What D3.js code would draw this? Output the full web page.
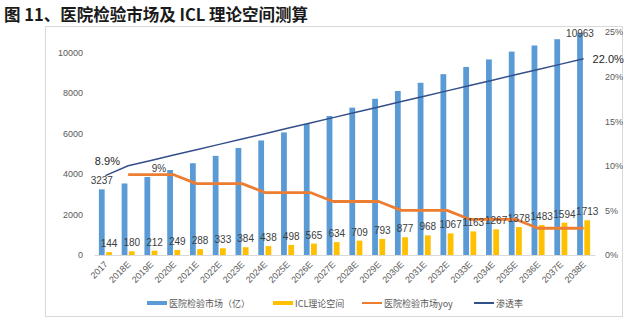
<!DOCTYPE html>
<html>
<head>
<meta charset="utf-8">
<script src="https://cdn.jsdelivr.net/npm/d3@7"></script>
<style>
  body { margin: 0; background: #fff; }
  text { font-family: "Liberation Sans", "Noto Sans CJK SC", sans-serif; }
  .cjk { font-family: "Noto Sans CJK SC", sans-serif; }
</style>
</head>
<body>
<script>
const years = ["2017","2018E","2019E","2020E","2021E","2022E","2023E","2024E","2025E","2026E","2027E",
  "2028E","2029E","2030E","2031E","2032E","2033E","2034E","2035E","2036E","2037E","2038E"];
// 医院检验市场（亿）
const market = [3237,3528,3846,4192,4527,4890,5281,5650,6046,6469,6857,
  7269,7705,8090,8495,8920,9276,9647,10033,10334,10644,10963];
// ICL理论空间
const icl = [144,180,212,249,288,333,384,438,498,565,634,
  709,793,877,968,1067,1163,1267,1378,1483,1594,1713];
// 医院检验市场yoy (%)
const yoy = [null,9,9,9,8,8,8,7,7,7,6,6,6,5,5,5,4,4,4,3,3,3];
// 渗透率 (%)
const penetration = [8.9,10.0,10.6,11.2,11.8,12.4,13.0,13.6,14.2,14.8,15.4,
  16.0,16.6,17.2,17.8,18.4,19.0,19.6,20.2,20.8,21.4,22.0];
const leftTicks = [0,2000,4000,6000,8000,10000];
const rightTicks = [0,5,10,15,20,25];

const w = 640;
const h = 323;
const plotL = 94, plotR = 595, plotT = 32, plotB = 255;

const svg = d3.select("body")
  .append("svg")
  .attr("width", w)
  .attr("height", h);

svg.append("text")
  .attr("class", "cjk")
  .attr("x", 4)
  .attr("y", 21)
  .text("图 11、医院检验市场及 ICL 理论空间测算")
  .attr("fill", "#1a1a1a")
  .style("font-size", "16.5px")
  .style("font-weight", "700");

// chart frame
svg.append("rect")
  .attr("x", 45.5).attr("y", 26.5)
  .attr("width", 577).attr("height", 290)
  .attr("fill", "none")
  .attr("stroke", "#d9d9d9");

const xScale = d3.scaleBand()
  .domain(years)
  .range([plotL, plotR]);
const xSub = d3.scaleBand()
  .domain(["market", "icl"])
  .range([-6.5, 6.5])
  .paddingInner(0.2);
const cx = (d) => xScale(d) + xScale.bandwidth() / 2;

const yLeft = d3.scaleLinear().domain([0, 11000]).range([plotB, plotT]);
const yRight = d3.scaleLinear().domain([0, 25]).range([plotB, plotT]);

// left axis
const yAxisL = d3.axisLeft(yLeft).tickValues(leftTicks).tickFormat(d3.format("d")).tickSize(0).tickPadding(0);
svg.append("g")
  .attr("transform", "translate(83,0)")
  .call(yAxisL)
  .call(g => g.select(".domain").remove())
  .selectAll("text")
  .attr("fill", "#595959")
  .style("font-size", "9px");

// right axis
const yAxisR = d3.axisRight(yRight).tickValues(rightTicks).tickFormat(d => d + "%").tickSize(0).tickPadding(0);
svg.append("g")
  .attr("transform", "translate(605,0)")
  .call(yAxisR)
  .call(g => g.select(".domain").remove())
  .selectAll("text")
  .attr("fill", "#595959")
  .style("font-size", "9px");

// bars
svg.selectAll(".bar-market")
  .data(years)
  .enter()
  .append("rect")
  .attr("class", "bar-market")
  .attr("x", (d) => cx(d) + xSub("market"))
  .attr("y", (d, i) => yLeft(market[i]))
  .attr("width", xSub.bandwidth())
  .attr("height", (d, i) => yLeft(0) - yLeft(market[i]))
  .attr("fill", "#5b9bd5");

svg.selectAll(".bar-icl")
  .data(years)
  .enter()
  .append("rect")
  .attr("class", "bar-icl")
  .attr("x", (d) => cx(d) + xSub("icl"))
  .attr("y", (d, i) => yLeft(icl[i]))
  .attr("width", xSub.bandwidth())
  .attr("height", (d, i) => yLeft(0) - yLeft(icl[i]))
  .attr("fill", "#ffc000");

// x axis
const xAxis = d3.axisBottom(xScale).tickSize(0).tickPadding(0);
svg.append("g")
  .attr("transform", "translate(0," + plotB + ")")
  .call(xAxis)
  .call(g => g.select(".domain").attr("stroke", "#d9d9d9"))
  .selectAll("text")
  .attr("fill", "#595959")
  .style("font-size", "9px")
  .attr("text-anchor", "end")
  .attr("dy", null)
  .attr("transform", "translate(3,10) rotate(-45)");

// lines
const yoyLine = d3.line()
  .defined((d) => d != null)
  .x((d, i) => cx(years[i]))
  .y((d) => yRight(d));
svg.append("path")
  .datum(yoy)
  .attr("d", yoyLine)
  .attr("fill", "none")
  .attr("stroke", "#ed7d31")
  .attr("stroke-width", 2.8)
  .attr("stroke-linejoin", "round");

const penLine = d3.line()
  .x((d, i) => cx(years[i]))
  .y((d) => yRight(d));
svg.append("path")
  .datum(penetration)
  .attr("d", penLine)
  .attr("fill", "none")
  .attr("stroke", "#34508a")
  .attr("stroke-width", 1.5);

// data labels
const lbl = svg.append("g")
  .style("font-size", "10px")
  .attr("fill", "#404040")
  .attr("text-anchor", "middle");

[0, years.length - 1].forEach(function(i){
  lbl.append("text")
    .attr("x", cx(years[i]) + xSub("market") + xSub.bandwidth() / 2)
    .attr("y", Math.max(yLeft(market[i]) - 5, 37))
    .text(market[i]);
});

lbl.selectAll(".icl-label")
  .data(icl)
  .enter()
  .append("text")
  .attr("x", (d, i) => cx(years[i]) + xSub("icl") + xSub.bandwidth() / 2)
  .attr("y", (d) => yLeft(d) - 5)
  .text((d) => d);

svg.append("text")
  .attr("x", cx(years[0]) + 2)
  .attr("y", yRight(penetration[0]) - 11)
  .attr("text-anchor", "middle")
  .attr("fill", "#262626")
  .style("font-size", "11px")
  .text(penetration[0].toFixed(1) + "%");

svg.append("text")
  .attr("x", cx(years[years.length - 1]) + 9)
  .attr("y", yRight(penetration[years.length - 1]) + 4)
  .attr("fill", "#262626")
  .style("font-size", "11px")
  .text(penetration[years.length - 1].toFixed(1) + "%");

svg.append("text")
  .attr("x", cx(years[2]) + 8)
  .attr("y", yRight(yoy[2]) - 3)
  .attr("text-anchor", "middle")
  .attr("fill", "#404040")
  .style("font-size", "10px")
  .text(yoy[2] + "%");

// legend
const legend = [
  { name: "医院检验市场（亿）", color: "#5b9bd5", type: "bar", x: 147 },
  { name: "ICL理论空间", color: "#ffc000", type: "bar", x: 273 },
  { name: "医院检验市场yoy", color: "#ed7d31", type: "line", x: 362 },
  { name: "渗透率", color: "#34508a", type: "line", x: 474 }
];
const lg = svg.selectAll(".legend")
  .data(legend)
  .enter()
  .append("g")
  .attr("transform", (d) => "translate(" + d.x + ",303)");
lg.append("rect")
  .attr("x", 0)
  .attr("y", (d) => d.type === "bar" ? -2 : -1)
  .attr("width", 20)
  .attr("height", (d) => d.type === "bar" ? 4 : 2)
  .attr("fill", (d) => d.color);
lg.append("text")
  .attr("class", "cjk")
  .attr("x", 22)
  .attr("y", 3.5)
  .attr("fill", "#595959")
  .style("font-size", "9px")
  .text((d) => d.name);
</script>
</body>
</html>
